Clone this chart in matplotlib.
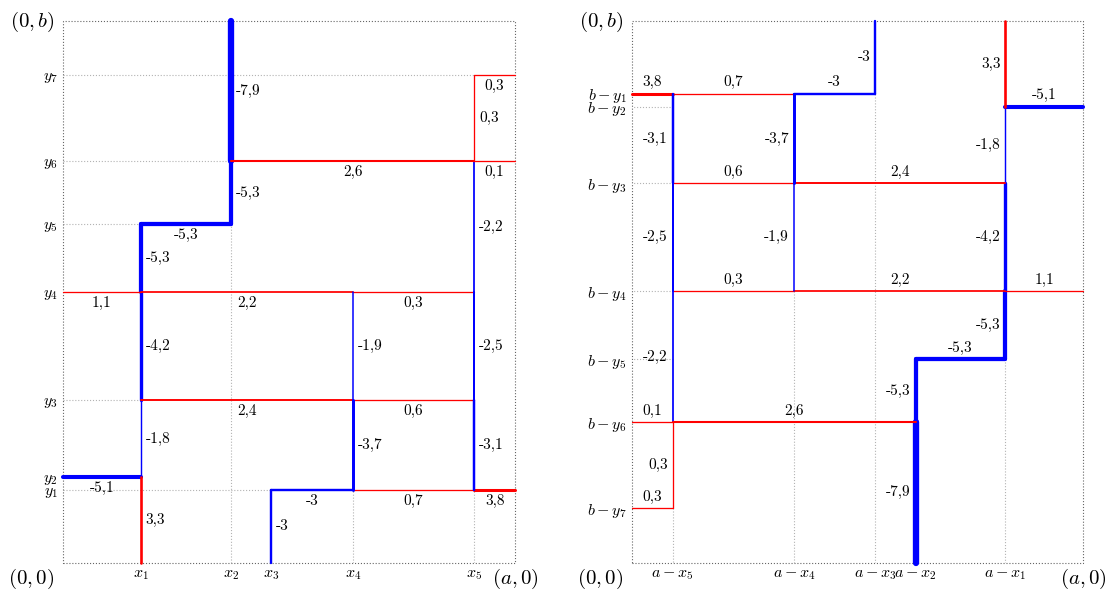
import matplotlib
matplotlib.use('Agg')
import matplotlib.pyplot as plt

plt.rcParams['mathtext.fontset'] = 'cm'
plt.rcParams['axes.unicode_minus'] = False

# domain [0,a] x [0,b], positions (fractions of a and b)
a_len = 1.0
b_len = 1.0
x_ticks = [0.172, 0.371, 0.461, 0.641, 0.910]
y_ticks = [0.134, 0.158, 0.300, 0.499, 0.625, 0.741, 0.900]

# segments: index 0 = axis start, last index = a (or b)
seg_kind = ['v', 'v', 'h', 'v', 'v', 'v', 'h', 'v', 'h', 'h', 'h', 'h', 'h',
            'h', 'h', 'h', 'v', 'v', 'v', 'v', 'v', 'v', 'h', 'h', 'v', 'h']
seg_at = [2, 2, 5, 1, 1, 1, 2, 1, 4, 4, 4, 3, 3,
          1, 1, 1, 3, 4, 4, 5, 5, 5, 6, 6, 5, 7]
seg_from = [6, 5, 1, 4, 3, 2, 0, 0, 0, 1, 4, 1, 4,
            4, 5, 3, 0, 1, 3, 1, 3, 4, 2, 5, 6, 5]
seg_to = [8, 6, 2, 5, 4, 3, 1, 2, 1, 4, 5, 4, 5,
          5, 6, 4, 1, 3, 4, 3, 4, 6, 5, 6, 7, 6]
seg_value = [-7.9, -5.3, -5.3, -5.3, -4.2, -1.8, -5.1, 3.3, 1.1, 2.2, 0.3, 2.4, 0.6,
             0.7, 3.8, -3, -3, -3.7, -1.9, -3.1, -2.5, -2.2, 2.6, 0.1, 0.3, 0.3]

# dotted projection lines (kind, at, from, to) in the original frame
left_guides = [('h', 1, 0, 3), ('h', 3, 0, 1), ('h', 5, 0, 1), ('h', 6, 0, 2),
               ('h', 7, 0, 5), ('v', 2, 0, 5), ('v', 4, 0, 1), ('v', 5, 0, 1)]
right_guides = [('h', 2, 5, 6), ('h', 3, 5, 6), ('h', 4, 5, 6), ('h', 5, 5, 6),
                ('v', 5, 7, 8), ('v', 4, 4, 8), ('v', 3, 1, 8), ('v', 1, 5, 8)]

left_xlabels = [r'$x_%d$' % (i + 1) for i in range(len(x_ticks))]
left_ylabels = [r'$y_%d$' % (i + 1) for i in range(len(y_ticks))]
right_xlabels = [r'$a-x_%d$' % (i + 1) for i in range(len(x_ticks))]
right_ylabels = [r'$b-y_%d$' % (i + 1) for i in range(len(y_ticks))]


def draw_panel(ax, flip, guides, xlabels, ylabels):
    xs = [0] + x_ticks + [a_len]
    ys = [0] + y_ticks + [b_len]

    def fx(v):
        return a_len - v if flip else v

    def fy(v):
        return b_len - v if flip else v

    def seg_xy(kind, at, i0, i1):
        if kind == 'v':
            return [fx(xs[at]), fx(xs[at])], [fy(ys[i0]), fy(ys[i1])]
        return [fx(xs[i0]), fx(xs[i1])], [fy(ys[at]), fy(ys[at])]

    for g in guides:
        gx, gy = seg_xy(*g)
        ax.plot(gx, gy, ls=':', color='0.7', lw=0.8, zorder=1)

    # dotted frame
    ax.plot([0, a_len, a_len, 0, 0], [0, 0, b_len, b_len, 0],
            ls=':', color='0.4', lw=0.8, zorder=1, clip_on=False)

    for k in range(len(seg_value)):
        v = seg_value[k]
        px, py = seg_xy(seg_kind[k], seg_at[k], seg_from[k], seg_to[k])
        color = 'blue' if v < 0 else 'red'
        lw = max(0.8 * abs(v), 1.3) * 0.72
        ax.plot(px, py, color=color, lw=lw, solid_capstyle='round',
                clip_on=False, zorder=2 + k * 0.01)
        label = f'{v:g}'.replace('.', ',')
        mx = (px[0] + px[1]) / 2
        my = (py[0] + py[1]) / 2
        if seg_kind[k] == 'v':
            off = (-3.5, 0) if flip else (3.5, 0)
            ha = 'right' if flip else 'left'
            va = 'center'
        else:
            off = (0, 3) if flip else (0, -3)
            ha = 'center'
            va = 'bottom' if flip else 'top'
        ax.annotate(label, (mx, my), xytext=off, textcoords='offset points',
                    ha=ha, va=va, family='cmr10', fontsize=11, zorder=5)

    ax.set_xlim(0, a_len)
    ax.set_ylim(0, b_len)
    ax.set_xticks([fx(v) for v in x_ticks])
    ax.set_xticklabels(xlabels)
    ax.set_yticks([fy(v) for v in y_ticks])
    ax.set_yticklabels(ylabels)
    ax.tick_params(length=0, labelsize=11.5)
    ax.tick_params(axis='x', pad=3)
    ax.tick_params(axis='y', pad=3.5)
    for s in ax.spines.values():
        s.set_visible(False)

    ax.annotate(r'$(0,b)$', (0, 1), xycoords='axes fraction', xytext=(-6, -1),
                textcoords='offset points', ha='right', va='center', fontsize=15)
    ax.annotate(r'$(0,0)$', (0, 0), xycoords='axes fraction', xytext=(-6, -11.5),
                textcoords='offset points', ha='right', va='center', fontsize=15)
    ax.annotate(r'$(a,0)$', (1, 0), xycoords='axes fraction', xytext=(0, -11.5),
                textcoords='offset points', ha='center', va='center', fontsize=15)


fig = plt.figure(figsize=(11.06, 5.92), dpi=100)
ax1 = fig.add_axes([63 / 1106, 29.5 / 592, 452 / 1106, 541.5 / 592])
ax2 = fig.add_axes([632 / 1106, 29.5 / 592, 451 / 1106, 541.5 / 592])

draw_panel(ax1, False, left_guides, left_xlabels, left_ylabels)
draw_panel(ax2, True, right_guides, right_xlabels, right_ylabels)

fig.savefig('out.png', dpi=100)
